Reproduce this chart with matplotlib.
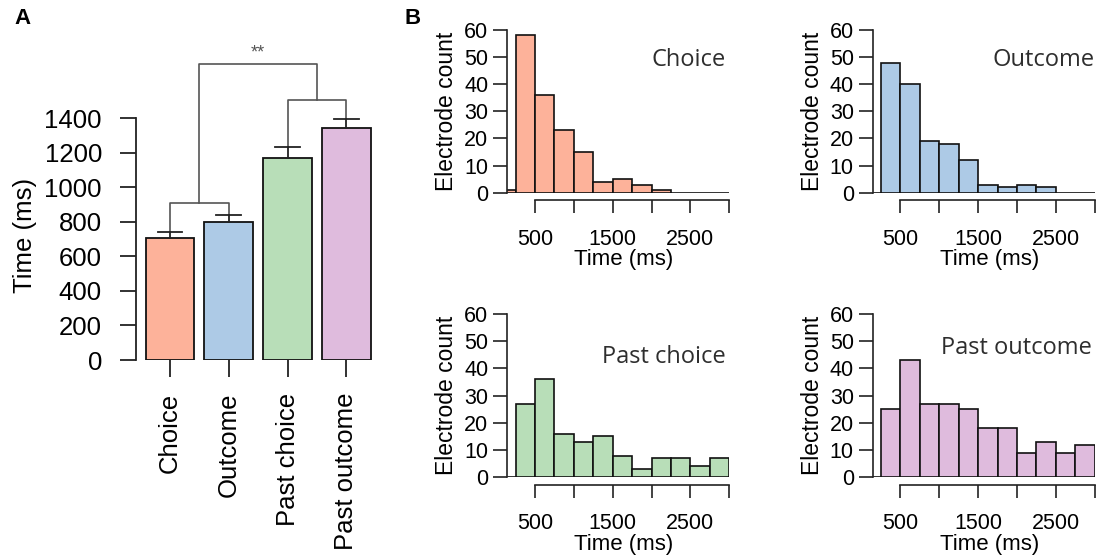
import matplotlib
matplotlib.use("Agg")
import matplotlib.pyplot as plt
import numpy as np

plt.rcParams['font.family'] = ['Liberation Sans', 'DejaVu Sans']

# ---------------- data ----------------
categories = ["Choice", "Outcome", "Past choice", "Past outcome"]
mean_time = [707, 801, 1169, 1343]
sem_time = [31, 35, 64, 50]
bar_colors = ["#FDB29A", "#ADCAE6", "#B8DEB8", "#DFBBDD"]

bin_edges = [0, 250, 500, 750, 1000, 1250, 1500, 1750, 2000, 2250, 2500, 2750, 3000]
counts_choice = [1, 58, 36, 23, 15, 4, 5, 3, 1, 0, 0, 0]
counts_outcome = [0, 48, 40, 19, 18, 12, 3, 2, 3, 2, 0, 0]
counts_past_choice = [0, 27, 36, 16, 13, 15, 8, 3, 7, 7, 4, 7]
counts_past_outcome = [0, 25, 43, 27, 27, 25, 18, 18, 9, 13, 9, 12]
hist_counts = [counts_choice, counts_outcome, counts_past_choice, counts_past_outcome]
hist_titles = ["Choice", "Outcome", "Past choice", "Past outcome"]
xticks_hist = [500, 1000, 1500, 2000, 2500, 3000]
xticklabels_hist = ["500", "", "1500", "", "2500", ""]
yticks_hist = [0, 10, 20, 30, 40, 50, 60]

W, H = 1096, 559
fig = plt.figure(figsize=(W / 100, H / 100), dpi=100)


def px_axes(left, right, top, bottom):
    return fig.add_axes([left / W, 1 - bottom / H, (right - left) / W, (bottom - top) / H])


# ---------------- panel A ----------------
axA = px_axes(136, 375.7, 118, 360)
x = np.arange(len(categories))
axA.bar(x, mean_time, width=0.83, color=bar_colors, edgecolor="#111111", linewidth=1.3, zorder=2)
for xi, m, s in zip(x, mean_time, sem_time):
    axA.plot([xi, xi], [m, m + s], color="#222222", lw=1.3, zorder=3, clip_on=False)
    axA.plot([xi - 0.21, xi + 0.21], [m + s, m + s], color="#222222", lw=1.3, zorder=3, clip_on=False)

axA.set_xlim(-0.579, 3.5)
axA.set_ylim(0, 1400)
axA.set_yticks(range(0, 1401, 200))
axA.set_xticks(x)
axA.set_xticklabels(categories, rotation=90, fontsize=18.5)
axA.tick_params(axis='y', labelsize=18.5, length=11.5, width=1.3, pad=13, color="#222222")
axA.tick_params(axis='x', length=12, width=1.3, pad=11.5, color="#222222")
for sp in ["top", "right", "bottom"]:
    axA.spines[sp].set_visible(False)
axA.spines["left"].set_linewidth(1.3)
axA.spines["left"].set_color("#222222")
axA.set_ylabel("Time (ms)", fontsize=18.5, va="center")
axA.yaxis.set_label_coords(-0.463, 0.515)

# significance brackets
bcol = "#555555"
tops = [m + s for m, s in zip(mean_time, sem_time)]
y1, y2, ytop = 911, 1503, 1715
kw = dict(color=bcol, lw=1.2, clip_on=False, zorder=1)
axA.plot([0, 0, 1, 1], [tops[0], y1, y1, tops[1]], **kw)
axA.plot([2, 2, 3, 3], [tops[2], y2, y2, tops[3]], **kw)
axA.plot([0.5, 0.5, 2.5, 2.5], [y1, ytop, ytop, y2], **kw)
axA.text(1.5, 1725, "**", ha="center", va="bottom", fontsize=13, color="#555555")

fig.text(14 / W, 1 - 19 / H, "A", fontsize=16, fontweight="bold", va="center", ha="left")
fig.text(405 / W, 1 - 19 / H, "B", fontsize=16, fontweight="bold", va="center", ha="left")

# ---------------- panel B ----------------
hist_boxes = [
    (507.3, 729.3, 30, 192.7),
    (872.7, 1094.7, 30, 192.7),
    (507.3, 729.3, 314, 477.3),
    (872.7, 1094.7, 314, 477.3),
]
title_pos = [(2960, 48.9), (3000, 48.9), (2960, 44.3), (2960, 47.5)]

edges = np.array(bin_edges)
for i in range(4):
    ax = px_axes(*hist_boxes[i])
    ax.bar(edges[:-1], hist_counts[i], width=np.diff(edges), align="edge",
           color=bar_colors[i], edgecolor="#111111", linewidth=1.2)
    ax.set_xlim(144, 3000)
    ax.set_ylim(0, 60)
    ax.set_xticks(xticks_hist)
    ax.set_xticklabels(xticklabels_hist)
    ax.set_yticks(yticks_hist)
    for sp in ["top", "right"]:
        ax.spines[sp].set_visible(False)
    ax.spines["bottom"].set_bounds(500, 3000)
    ax.spines["bottom"].set_position(("outward", 5.3))
    ax.spines["left"].set_bounds(0, 60)
    for sp in ["bottom", "left"]:
        ax.spines[sp].set_linewidth(1.2)
        ax.spines[sp].set_color("#222222")
    ax.tick_params(axis="x", labelsize=15.5, length=9.5, width=1.2, pad=11, color="#222222")
    ax.tick_params(axis="y", labelsize=15.5, length=10, width=1.2, pad=3.6, color="#222222")
    ax.set_xlabel("Time (ms)", fontsize=16, va="center")
    ax.xaxis.set_label_coords(0.526, -0.41)
    ax.set_ylabel("Electrode count", fontsize=16.5, va="center")
    ax.yaxis.set_label_coords(-0.272, 0.5)
    tx, ty = title_pos[i]
    ax.text(tx, ty, hist_titles[i], ha="right", va="center", fontsize=17,
            color="#2e2e2e", family=["Open Sans", "DejaVu Sans"], clip_on=False)

fig.savefig("out.png", dpi=100)
